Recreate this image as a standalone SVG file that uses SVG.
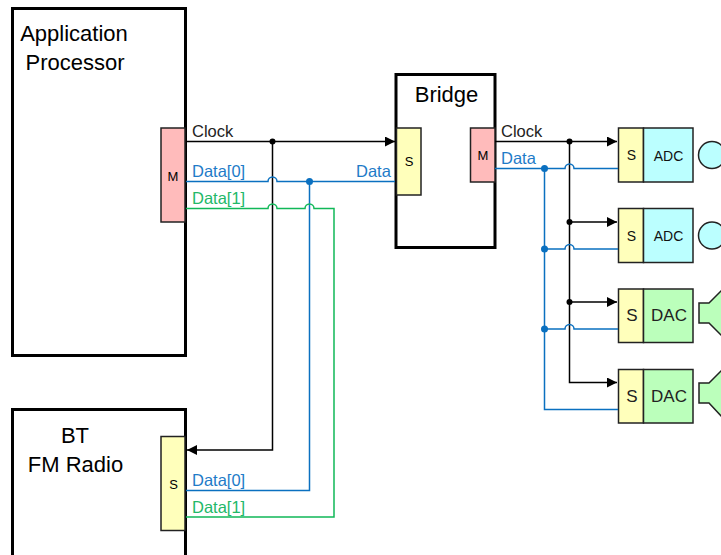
<svg xmlns="http://www.w3.org/2000/svg" width="721" height="555" viewBox="0 0 721 555">
<style>
text{font-family:"Liberation Sans",Arial,sans-serif}
.big{font-size:22px;fill:#000;text-anchor:middle}
.lbl{font-size:16.5px}
.k{fill:#222}.b{fill:#1e7bc8}.g{fill:#22b868}
.chip{font-size:13px;fill:#000;text-anchor:middle}
.adc{font-size:14px;fill:#111;text-anchor:middle}
.dev{font-size:17px;fill:#222;text-anchor:middle}
.blk{fill:#fff;stroke:#000;stroke-width:3}
.pk{fill:#ffbbbb;stroke:#222;stroke-width:1.5}
.yl{fill:#ffffbb;stroke:#222;stroke-width:1.5}
.cy{fill:#bbffff;stroke:#222;stroke-width:1.5}
.gr{fill:#bbffbb;stroke:#222;stroke-width:1.5}
.wk,.wb,.wg{fill:none;stroke-width:1.5}
.wk{stroke:#000}.wb{stroke:#0a70c0}.wg{stroke:#10b858}
</style>
<defs>
<marker id="ah" markerUnits="userSpaceOnUse" markerWidth="11" markerHeight="10" refX="10" refY="5" orient="auto"><path d="M0 0L10 5L0 10Z" fill="#000"/></marker>
</defs>
<g id="app-processor">
<rect class="blk" x="12.500" y="8.500" width="173" height="347"/>
<text class="big" x="74" y="41">Application</text>
<text class="big" x="75" y="70">Processor</text>
<rect class="pk" x="161" y="128" width="24" height="94"/>
<text class="chip" x="173" y="181">M</text>
</g>
<g id="bt-fm-radio">
<rect class="blk" x="12.500" y="409.500" width="173" height="160"/>
<text class="big" x="75" y="443">BT</text>
<text class="big" x="75.500" y="472">FM Radio</text>
<rect class="yl" x="161" y="436.500" width="24" height="94"/>
<text class="chip" x="173.500" y="489">S</text>
</g>
<g id="bridge">
<rect class="blk" x="396" y="74.500" width="99" height="173"/>
<text class="big" x="446.500" y="102">Bridge</text>
<rect class="yl" x="396.500" y="128" width="24.500" height="67"/>
<text class="chip" x="409" y="166">S</text>
<rect class="pk" x="470.500" y="128" width="24.500" height="54"/>
<text class="chip" x="483" y="160">M</text>
</g>
<g id="adc-1">
<rect class="yl" x="618.500" y="128" width="25" height="54"/>
<rect class="cy" x="643.500" y="128" width="49.500" height="54"/>
<text class="adc" x="631.500" y="160">S</text>
<text class="adc" x="668.500" y="161">ADC</text>
<circle cx="712" cy="155" r="13.500" fill="#bbffff" stroke="#222" stroke-width="1.500"/>
</g>
<g id="adc-2">
<rect class="yl" x="618.500" y="208.500" width="25" height="54"/>
<rect class="cy" x="643.500" y="208.500" width="49.500" height="54"/>
<text class="adc" x="631.500" y="241">S</text>
<text class="adc" x="668.500" y="241">ADC</text>
<circle cx="712" cy="235.500" r="13.500" fill="#bbffff" stroke="#222" stroke-width="1.500"/>
</g>
<g id="dac-1">
<rect class="yl" x="618.500" y="289" width="25" height="53.500"/>
<rect class="gr" x="643.500" y="289" width="49.500" height="53.500"/>
<text class="dev" x="632" y="321">S</text>
<text class="dev" x="669" y="321">DAC</text>
<path class="gr" d="M722 290L709 303H699V323H709L722 336"/>
</g>
<g id="dac-2">
<rect class="yl" x="618.500" y="369.500" width="25" height="53.500"/>
<rect class="gr" x="643.500" y="369.500" width="49.500" height="53.500"/>
<text class="dev" x="632" y="402">S</text>
<text class="dev" x="669" y="402">DAC</text>
<path class="gr" d="M722 370L709 383H699V403H709L722 417"/>
</g>
<g id="connectors">
<path class="wk" d="M186 141.500H395" marker-end="url(#ah)"/>
<path class="wk" d="M272.500 141.500V450H187" marker-end="url(#ah)"/>
<path class="wb" d="M186 181.500H268a4.500 4.500 0 0 1 9 0H395"/>
<path class="wb" d="M309.500 181.500V490.500H186"/>
<path class="wg" d="M186 208.500H268a4.500 4.500 0 0 1 9 0H305a4.500 4.500 0 0 1 9 0H334V517H186"/>
<path class="wk" d="M495 141.500H617" marker-end="url(#ah)"/>
<path class="wk" d="M569.500 141.500V382.500H617" marker-end="url(#ah)"/>
<path class="wk" d="M569.500 222H617" marker-end="url(#ah)"/>
<path class="wk" d="M569.500 302H617" marker-end="url(#ah)"/>
<path class="wb" d="M495 168.500H565a4.500 4.500 0 0 1 9 0H618"/>
<path class="wb" d="M544.500 168.500V409.500H618"/>
<path class="wb" d="M544.500 249H565a4.500 4.500 0 0 1 9 0H618"/>
<path class="wb" d="M544.500 329H565a4.500 4.500 0 0 1 9 0H618"/>
<circle cx="272.500" cy="141.500" r="3"/>
<circle cx="309.500" cy="181.500" r="3.500" fill="#0a70c0"/>
<circle cx="569.500" cy="141.500" r="3"/>
<circle cx="569.500" cy="222" r="3"/>
<circle cx="569.500" cy="302" r="3"/>
<circle cx="544.500" cy="168.500" r="3.500" fill="#0a70c0"/>
<circle cx="544.500" cy="249" r="3.500" fill="#0a70c0"/>
<circle cx="544.500" cy="329" r="3.500" fill="#0a70c0"/>
</g>
<g id="labels">
<text class="lbl k" x="192" y="137">Clock</text>
<text class="lbl b" x="192" y="177">Data[0]</text>
<text class="lbl g" x="192" y="204">Data[1]</text>
<text class="lbl b" x="356" y="177">Data</text>
<text class="lbl k" x="501" y="137">Clock</text>
<text class="lbl b" x="501" y="164">Data</text>
<text class="lbl b" x="192" y="486">Data[0]</text>
<text class="lbl g" x="192" y="513">Data[1]</text>
</g>
</svg>
